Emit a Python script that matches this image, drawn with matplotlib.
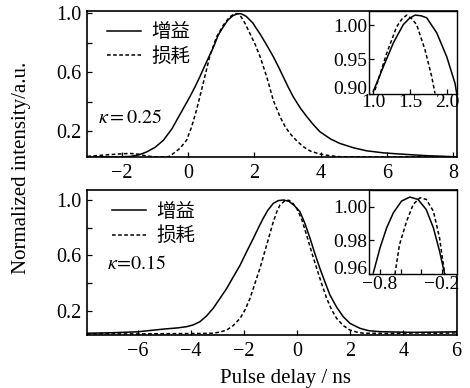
import matplotlib
matplotlib.use("Agg")
import matplotlib.pyplot as plt
from matplotlib.lines import Line2D

plt.rcParams['font.family'] = ['Liberation Serif', 'Noto Sans CJK SC']
plt.rcParams['mathtext.fontset'] = 'stix'
plt.rcParams['axes.unicode_minus'] = True

# ---------------- data ----------------
legend_labels = ['增益', '损耗']

# Top panel, kappa = 0.25
top_gain_x = [-3.05, -2.5, -2.0, -1.75, -1.5, -1.26, -1.0, -0.75, -0.5, -0.25, 0.05, 0.2, 0.35, 0.55, 0.76,
              0.9, 1.06, 1.2, 1.35, 1.5, 1.6, 1.75, 1.95, 2.05, 2.17, 2.37, 2.57, 2.72, 2.87, 3.02, 3.17, 3.38, 3.58,
              3.78, 3.98, 4.3, 4.58, 5.0, 5.39, 5.9, 6.4, 7.2, 8.1]
top_gain_y = [0.026, 0.027, 0.028, 0.030, 0.040, 0.060, 0.092, 0.14, 0.215, 0.315, 0.435, 0.50, 0.57, 0.67, 0.77,
              0.85, 0.91, 0.955, 0.985, 0.998, 0.997, 0.98, 0.935, 0.90, 0.86, 0.785, 0.706, 0.64, 0.57, 0.50, 0.435, 0.36, 0.30,
              0.245, 0.197, 0.148, 0.118, 0.088, 0.068, 0.054, 0.046, 0.035, 0.027]
top_loss_x = [-3.05, -2.5, -2.0, -1.75, -1.5, -1.25, -1.0, -0.6, -0.45, -0.25, -0.05, 0.1, 0.25, 0.45,
              0.65, 0.855, 1.06, 1.25, 1.4, 1.5, 1.6, 1.72, 1.86, 2.02, 2.17, 2.37, 2.57, 2.77, 2.92,
              3.07, 3.28, 3.48, 3.7, 3.98, 4.3, 4.58, 5.5, 6.5, 7.3, 8.1]
top_loss_y = [0.030, 0.040, 0.048, 0.050, 0.045, 0.032, 0.027, 0.028, 0.05, 0.085, 0.14, 0.23, 0.345, 0.525,
              0.71, 0.84, 0.92, 0.975, 0.998, 0.998, 0.975, 0.93, 0.865, 0.79, 0.706, 0.57, 0.41, 0.30, 0.235,
              0.186, 0.135, 0.095, 0.065, 0.046, 0.034, 0.028, 0.026, 0.027, 0.030, 0.027]

top_in_gain_x = [1.004, 1.139, 1.274, 1.409, 1.49, 1.568, 1.65, 1.726, 1.861, 1.996, 2.108, 2.131]
top_in_gain_y = [0.903, 0.939, 0.974, 1.001, 1.010, 1.015, 1.014, 1.011, 0.989, 0.954, 0.915, 0.900]
top_in_loss_x = [1.027, 1.185, 1.32, 1.39, 1.455, 1.52, 1.59, 1.703, 1.793, 1.838]
top_in_loss_y = [0.905, 0.959, 0.998, 1.009, 1.015, 1.010, 1.001, 0.964, 0.925, 0.900]

# Bottom panel, kappa = 0.15
bot_gain_x = [-7.9, -7.0, -6.0, -5.0, -4.5, -4.15, -3.9, -3.65, -3.4, -3.15, -2.9, -2.64, -2.4, -2.14,
              -1.9, -1.64, -1.45, -1.27, -1.1, -0.89, -0.7, -0.5, -0.3, -0.1, 0.11, 0.3, 0.49, 0.67,
              0.86, 1.05, 1.24, 1.5, 1.74, 2.0, 2.37, 2.7, 3.12, 4.37, 5.2, 6.0]
bot_gain_y = [0.040, 0.043, 0.050, 0.070, 0.078, 0.087, 0.10, 0.123, 0.165, 0.22, 0.29, 0.364, 0.445, 0.53,
              0.625, 0.724, 0.80, 0.868, 0.925, 0.976, 0.996, 1.0, 0.99, 0.96, 0.916, 0.83, 0.724, 0.615,
              0.508, 0.41, 0.315, 0.225, 0.159, 0.11, 0.075, 0.058, 0.051, 0.046, 0.048, 0.050]
bot_loss_x = [-7.9, -6.0, -4.5, -3.6, -3.15, -2.9, -2.64, -2.4, -2.14, -1.95, -1.77, -1.58, -1.39, -1.14,
              -0.89, -0.75, -0.64, -0.45, -0.3, -0.15, -0.01, 0.18, 0.36, 0.55, 0.74, 0.93, 1.12, 1.3,
              1.49, 1.74, 1.99, 2.25, 2.49, 3.5, 4.5, 5.2, 6.0]
bot_loss_y = [0.035, 0.035, 0.037, 0.038, 0.040, 0.048, 0.063, 0.095, 0.147, 0.21, 0.29, 0.40, 0.51, 0.676,
              0.844, 0.92, 0.964, 0.995, 0.998, 0.975, 0.94, 0.86, 0.748, 0.625, 0.508, 0.395, 0.29, 0.21,
              0.147, 0.095, 0.063, 0.048, 0.040, 0.038, 0.042, 0.040, 0.042]

bot_in_gain_x = [-0.865, -0.8, -0.735, -0.67, -0.59, -0.51, -0.43, -0.35, -0.28, -0.22, -0.17]
bot_in_gain_y = [0.9606, 0.9755, 0.9875, 0.9964, 1.0034, 1.0058, 1.0044, 0.9984, 0.9875, 0.9736, 0.960]
bot_in_loss_x = [-0.654, -0.61, -0.54, -0.477, -0.41, -0.35, -0.28, -0.22, -0.17]
bot_in_loss_y = [0.960, 0.9775, 0.9915, 1.0014, 1.0054, 1.0044, 0.9974, 0.9815, 0.960]

top_main_xticks = [-2, 0, 2, 4, 6, 8]
bot_main_xticks = [-6, -4, -2, 0, 2, 4, 6]
main_yticks = [0.2, 0.4, 0.6, 0.8, 1.0]
main_yticklabels = ['0.2', '', '0.6', '', '1.0']
top_in_xticks = [1.0, 1.5, 2.0]
top_in_xticklabels = ['1.0', '1.5', '2.0']
top_in_yticks = [0.90, 0.95, 1.00]
top_in_yticklabels = ['0.90', '0.95', '1.00']
bot_in_xticks = [-0.8, -0.6, -0.4, -0.2]
bot_in_xticklabels = ['\u22120.8', '', '', '\u22120.2']
bot_in_yticks = [0.96, 0.98, 1.00]
bot_in_yticklabels = ['0.96', '0.98', '1.00']

# ---------------- styling ----------------
W, H = 470, 388
fig = plt.figure(figsize=(W / 100, H / 100), dpi=100)

def frac(l, t, r, b):
    return [l / W, 1 - b / H, (r - l) / W, (b - t) / H]

LW = 1.1
DASH = (0, (2.4, 1.6))
TICKFS = 14.5
INSETFS = 14

def style(ax, lw=1.1, pad=4, fs=TICKFS):
    for s in ax.spines.values():
        s.set_linewidth(lw)
    ax.tick_params(direction='in', length=3.5, width=0.9, labelsize=fs, pad=pad,
                   top=False, right=False)

ax1 = fig.add_axes(frac(87, 11, 457, 157))
ax1.plot(top_gain_x, top_gain_y, color='black', lw=LW)
ax1.plot(top_loss_x, top_loss_y, color='black', lw=LW, linestyle=DASH)
ax1.set_xlim(-3.06, 8.12)
ax1.set_ylim(0.026, 1.016)
ax1.set_xticks(top_main_xticks)
ax1.set_yticks(main_yticks)
ax1.set_yticklabels(main_yticklabels)
style(ax1, lw=1.2)
ax1.tick_params(axis='x', pad=5)
ax1.text(0.03, 0.267, r'$\kappa = 0.25$', transform=ax1.transAxes, fontsize=14.5, va='center', ha='left')

ax2 = fig.add_axes(frac(87, 190, 457, 335))
ax2.plot(bot_gain_x, bot_gain_y, color='black', lw=LW)
ax2.plot(bot_loss_x, bot_loss_y, color='black', lw=LW, linestyle=DASH)
ax2.set_xlim(-7.9, 6.02)
ax2.set_ylim(0.027, 1.072)
ax2.set_xticks(bot_main_xticks)
ax2.set_yticks(main_yticks)
ax2.set_yticklabels(main_yticklabels)
style(ax2, lw=1.2)
ax2.tick_params(axis='x', pad=5)
ax2.text(0.053, 0.483, r'$\kappa\!=\!0.15$', transform=ax2.transAxes, fontsize=14.5, va='center', ha='left')

handles = [Line2D([], [], color='black', lw=LW),
           Line2D([], [], color='black', lw=LW, linestyle=DASH)]
for ax, anchor in ((ax1, (0.054, 0.915)), (ax2, (0.067, 0.91))):
    ax.legend(handles, legend_labels, loc='upper left', bbox_to_anchor=anchor, frameon=False,
              fontsize=14, handlelength=1.75, handletextpad=0.55, labelspacing=0.28,
              borderpad=0, borderaxespad=0)

# insets
in1 = fig.add_axes(frac(369, 11, 457, 93.5))
in1.plot(top_in_gain_x, top_in_gain_y, color='black', lw=LW)
in1.plot(top_in_loss_x, top_in_loss_y, color='black', lw=LW, linestyle=DASH)
in1.set_xlim(0.946, 2.135)
in1.set_ylim(0.90, 1.021)
in1.set_xticks(top_in_xticks)
in1.set_xticklabels(top_in_xticklabels)
in1.set_yticks(top_in_yticks)
in1.set_yticklabels(top_in_yticklabels)
style(in1, lw=1.0, pad=1.5, fs=INSETFS)
in1.tick_params(axis='x', pad=0.5)
in1.get_yticklabels()[0].set_va('baseline')

in2 = fig.add_axes(frac(369, 190, 457, 274))
in2.plot(bot_in_gain_x, bot_in_gain_y, color='black', lw=LW)
in2.plot(bot_in_loss_x, bot_in_loss_y, color='black', lw=LW, linestyle=DASH)
in2.set_xlim(-0.907, -0.05)
in2.set_ylim(0.96, 1.010)
in2.set_xticks(bot_in_xticks)
in2.set_xticklabels(bot_in_xticklabels)
in2.set_yticks(bot_in_yticks)
in2.set_yticklabels(bot_in_yticklabels)
style(in2, lw=1.0, pad=1.5, fs=INSETFS)
in2.tick_params(axis='x', pad=1.5)
in2.get_yticklabels()[0].set_va('baseline')

fig.text(22 / W, 1 - 168 / H, 'Normalized intensity/a.u.', rotation=90, ha='center', va='center', fontsize=15)
fig.text(286 / W, 1 - 383.5 / H, 'Pulse delay / ns', ha='center', va='baseline', fontsize=15)

fig.savefig('out.png', dpi=100)
